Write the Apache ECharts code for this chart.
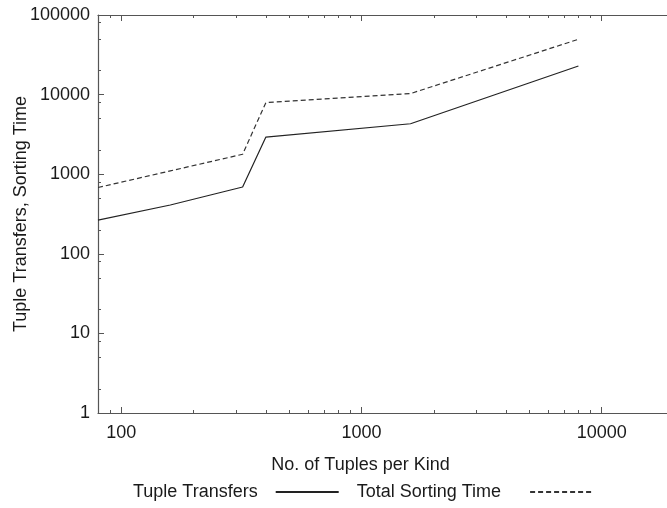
<!DOCTYPE html>
<html>
<head>
<meta charset="utf-8">
<script src="https://cdn.jsdelivr.net/npm/echarts@6/dist/echarts.min.js"></script>
<style>
  html, body { margin: 0; padding: 0; background: #fff; }
  #chart { width: 667px; height: 508px; }
</style>
</head>
<body>
<div id="chart"></div>
<script>
// data
var tuplesPerKind = [80, 160, 320, 400, 1600, 8000]
var tupleTransfers = [265, 410, 690, 2930, 4300, 22900]
var totalSortingTime = [680, 1100, 1780, 7950, 10300, 49500]

// ticks
var xMajor = [100, 1000, 10000]
var xMinor = [90, 200, 300, 400, 500, 600, 700, 800, 900, 2000, 3000, 4000, 5000, 6000, 7000, 8000, 9000]
var yMajor = [1, 10, 100, 1000, 10000, 100000]
var yMinor = [2, 5, 8, 20, 50, 80, 200, 500, 800, 2000, 5000, 8000, 20000, 50000, 80000]

var font = 'Liberation Sans, Arial, Helvetica, sans-serif'
var axisColor = '#555'
var textColor = '#1a1a1a'

function pairs(xs, ys) {
  return xs.map(function (x, i) { return [x, ys[i]] })
}

function fmt(v) {
  return String(Math.round(v))
}

var chart = echarts.init(document.getElementById('chart'))

// base x axis settings shared by the top/bottom copies
function xAx(extra) {
  var a = {
    type: 'log',
    logBase: 10,
    min: 80,
    max: 20000,
    axisLine: { show: false },
    axisLabel: { show: false },
    axisTick: { show: false },
    splitLine: { show: false },
    minorTick: { show: false }
  }
  for (var k in extra) a[k] = extra[k]
  return a
}

function yAx(extra) {
  var a = {
    type: 'log',
    logBase: 10,
    min: 1,
    max: 100000,
    axisLine: { show: false },
    axisLabel: { show: false },
    axisTick: { show: false },
    splitLine: { show: false },
    minorTick: { show: false }
  }
  for (var k in extra) a[k] = extra[k]
  return a
}

var option = {
  backgroundColor: '#fff',
  animation: false,
  textStyle: { fontFamily: font },
  grid: {
    left: 98,
    top: 15,
    right: -7,
    bottom: 95,
    containLabel: false,
    outerBoundsMode: 'none'
  },
  legend: {
    left: 128,
    top: 478,
    align: 'right',
    itemWidth: 63,
    itemHeight: 10,
    itemGap: 17,
    itemStyle: { opacity: 0, borderWidth: 0, color: 'rgba(0,0,0,0)', borderColor: 'rgba(0,0,0,0)' },
    textStyle: { fontSize: 18, color: textColor, fontFamily: font },
    data: [
      { name: 'Tuple Transfers', textStyle: { padding: [0, 13, 0, 0] } },
      { name: 'Total Sorting Time', textStyle: { padding: [0, 24, 0, 0] } }
    ]
  },
  xAxis: [
    xAx({
      position: 'bottom',
      name: 'No. of Tuples per Kind',
      nameLocation: 'middle',
      nameGap: 43,
      nameMoveOverlap: false,
      nameTextStyle: { fontSize: 18, color: textColor, fontFamily: font, padding: [0, 51, 0, 0] },
      axisLine: { show: true, lineStyle: { color: axisColor, width: 1.2 } },
      axisTick: { show: true, inside: true, length: 6, customValues: xMajor, lineStyle: { color: axisColor } },
      axisLabel: {
        show: true, margin: 11, fontSize: 18, color: textColor, fontFamily: font,
        customValues: xMajor, formatter: fmt
      }
    }),
    xAx({
      position: 'bottom',
      axisTick: { show: true, inside: true, length: 3, customValues: xMinor, lineStyle: { color: axisColor } }
    }),
    xAx({
      position: 'top',
      axisLine: { show: true, lineStyle: { color: axisColor, width: 1.2 } },
      axisTick: { show: true, inside: true, length: 6, customValues: xMajor, lineStyle: { color: axisColor } }
    }),
    xAx({
      position: 'top',
      axisTick: { show: true, inside: true, length: 3, customValues: xMinor, lineStyle: { color: axisColor } }
    })
  ],
  yAxis: [
    yAx({
      position: 'left',
      name: 'Tuple Transfers, Sorting Time',
      nameLocation: 'middle',
      nameGap: 68,
      nameMoveOverlap: false,
      nameTextStyle: { fontSize: 18, color: textColor, fontFamily: font },
      axisLine: { show: true, lineStyle: { color: axisColor, width: 1.2 } },
      axisTick: { show: true, inside: true, length: 6, customValues: yMajor, lineStyle: { color: axisColor } },
      axisLabel: {
        show: true, margin: 8, fontSize: 18, color: textColor, fontFamily: font,
        customValues: yMajor, formatter: fmt
      }
    }),
    yAx({
      position: 'left',
      axisTick: { show: true, inside: true, length: 3, customValues: yMinor, lineStyle: { color: axisColor } }
    }),
    yAx({
      position: 'right',
      axisLine: { show: true, lineStyle: { color: axisColor, width: 1.2 } },
      axisTick: { show: true, inside: true, length: 6, customValues: yMajor, lineStyle: { color: axisColor } }
    })
  ],
  series: [
    {
      name: 'Tuple Transfers',
      type: 'line',
      xAxisIndex: 0,
      yAxisIndex: 0,
      symbol: 'none',
      color: '#222',
      lineStyle: { color: '#222', width: 1.2, type: 'solid' },
      data: pairs(tuplesPerKind, tupleTransfers)
    },
    {
      name: 'Total Sorting Time',
      type: 'line',
      xAxisIndex: 0,
      yAxisIndex: 0,
      symbol: 'none',
      color: '#333',
      lineStyle: { color: '#333', width: 1.2, type: [5, 3] },
      data: pairs(tuplesPerKind, totalSortingTime)
    }
  ]
}

chart.setOption(option)
</script>
</body>
</html>
